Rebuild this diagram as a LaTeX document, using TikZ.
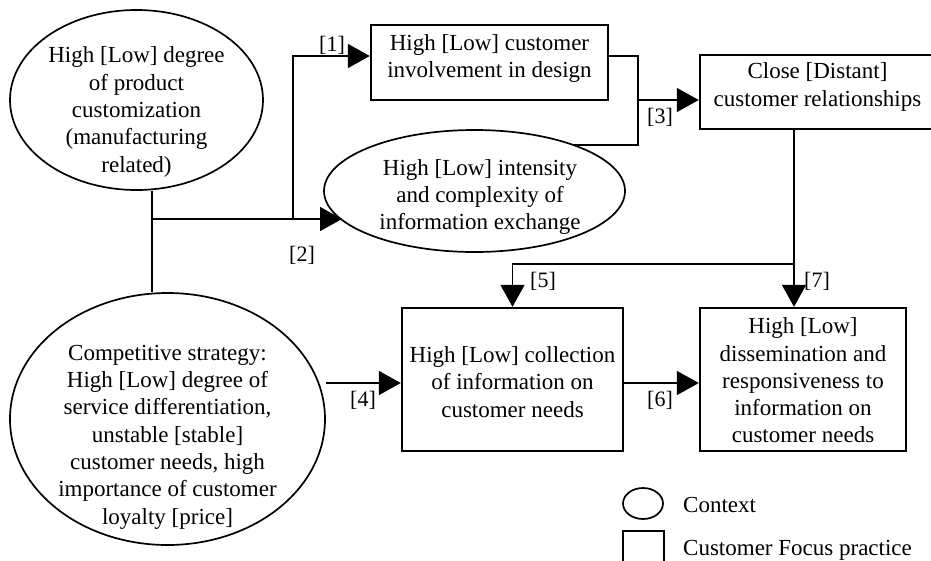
\documentclass[tikz,border=0pt]{standalone}
\usepackage{fontspec}
\setmainfont{Liberation Serif}
\usetikzlibrary{arrows.meta,calc,shapes.geometric}
\begin{document}
\begin{tikzpicture}[x=1pt,y=-1pt,
  line/.style={line width=1.7pt},
  conn/.style={line width=1.7pt,-{Triangle[length=22pt,width=24pt]}},
  ctx/.style={draw,ellipse,line width=1.7pt,inner sep=0pt},
  practice/.style={draw,rectangle,line width=2.4pt,inner sep=0pt},
  txt/.style={align=center,font=\fontsize{23}{27.3}\selectfont,inner sep=0pt},
  lab/.style={font=\fontsize{22}{26}\selectfont,inner sep=0pt}]
\useasboundingbox (0,0) rectangle (931,560);
\clip (0,0) rectangle (931,560);

% context ellipses
\node[ctx,minimum width=253pt,minimum height=180pt] (e1) at (136.5,100) {};
\node[txt] (t1) at (136.5,112) {High [Low] degree\\of product\\customization\\(manufacturing\\related)};
\node[ctx,minimum width=315pt,minimum height=252pt] (e2) at (167.5,419) {};
\node[txt] (t2) at (167.5,437) {Competitive strategy:\\High [Low] degree of\\service differentiation,\\unstable [stable]\\customer needs, high\\importance of customer\\loyalty [price]};
\node[ctx,minimum width=301pt,minimum height=122pt] (e3) at (474.5,191) {};
\node[txt] (t3) at (480,197) {High [Low] intensity\\and complexity of\\information exchange};

% practice boxes
\node[practice,minimum width=237pt,minimum height=75pt] (b1) at (489.5,62.5) {};
\node[txt] (tb1) at (489.5,58.5) {High [Low] customer\\involvement in design};
\node[practice,minimum width=235pt,minimum height=74pt] (b2) at (817.5,92) {};
\node[txt] (tb2) at (817.5,87) {Close [Distant]\\customer relationships};
\node[practice,minimum width=221pt,minimum height=143pt] (b3) at (512.5,379.5) {};
\node[txt] (tb3) at (512.5,382) {High [Low] collection\\of information on\\customer needs};
\node[practice,minimum width=206pt,minimum height=143pt] (b4) at (803,379.5) {};
\node[txt] (tb4) at (803,380.5) {High [Low]\\dissemination and\\responsiveness to\\information on\\customer needs};

% helper coordinates
\coordinate (j1) at (152,219);
\coordinate (j2) at (293,219);
\coordinate (r56) at (0,56);
\coordinate (j3) at (638,145);
\coordinate (x3) at (638,100);
\coordinate (c7) at (794,264);
\coordinate (r383) at (0,383);
\coordinate (t2tip) at (342,219);

% connectors
\draw[line] (j1 |- e1.south) -- (j1 |- e2.north);
\draw[conn] (j1) -- (t2tip);
\draw[conn] (j2) |- (b1.west |- r56);
\draw[line] (b1.east |- r56) -| (j3) -- (j3 -| e3.25);
\draw[conn] (x3) -- (b2.west |- x3);
\draw[conn] (c7 |- b2.south) -- (c7 |- b4.north);
\draw[conn] (c7) -| (b3.north);
\draw[conn] (e2.east |- r383) -- (b3.west |- r383);
\draw[conn] (b3.east |- r383) -- (b4.west |- r383);

% connector labels
\node[lab] (l1) at (332,45) {[1]};
\node[lab] (l2) at (302,255) {[2]};
\node[lab] (l3) at (660,117) {[3]};
\node[lab] (l4) at (363,400) {[4]};
\node[lab] (l5) at (543,281) {[5]};
\node[lab] (l6) at (660,400) {[6]};
\node[lab] (l7) at (817,281) {[7]};

% legend
\node[ctx,minimum width=40pt,minimum height=31pt] (lc) at (643,503.5) {};
\node[txt,anchor=base west] (lct) at (683,512) {Context};
\node[practice,line width=2pt,minimum width=41pt,minimum height=40pt] (lp) at (643.5,551) {};
\node[txt,anchor=base west] (lpt) at (683,555) {Customer Focus practice};
\end{tikzpicture}
\end{document}
